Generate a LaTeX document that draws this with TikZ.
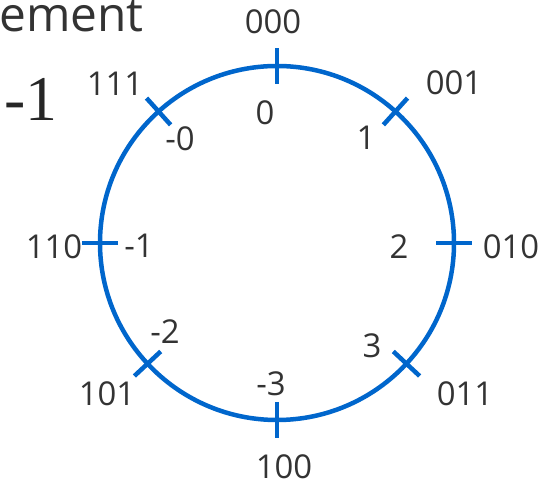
\documentclass[tikz,border=0pt]{standalone}
\usepackage{fontspec}
\setmainfont{Open Sans}
\newfontfamily\serifnum{Liberation Serif}
\usetikzlibrary{calc}
\definecolor{ringblue}{RGB}{0,102,204}
\definecolor{inkgray}{RGB}{51,51,51}

\begin{document}
\begin{tikzpicture}[
  x=1bp, y=1bp,
  ring/.style={draw=ringblue, line width=4.5bp},
  tick/.style={draw=ringblue, line width=4.5bp},
  code/.style={text=inkgray, font=\fontsize{33}{38}\selectfont, inner sep=0pt},
  val/.style={code},
  title/.style={text=inkgray, inner sep=0pt, anchor=base west}
]
  \useasboundingbox (0,0) rectangle (552,484);

  % cut-off heading at top left
  \node[title, font=\fontsize{48}{56}\selectfont] (head) at (-1,452) {ement};
  \node[title, font=\serifnum\fontsize{64}{72}\selectfont, text=black!85] (range) at (4,363) {-1};

  % the ring
  \coordinate (c) at (277,241);
  \draw[ring] (c) circle[radius=177bp];

  % ticks across the ring
  \foreach \a in {90,48,0,-43,-90,223,180,132}
    \draw[tick] ($(c)+(\a:159)$) -- ($(c)+(\a:195)$);

  % bit patterns, outside
  \node[code] (b000) at (273,462) {000};
  \node[code] (b001) at (454,401) {001};
  \node[code] (b010) at (511,237) {010};
  \node[code] (b011) at (465,90) {011};
  \node[code] (b100) at (284,17) {100};
  \node[code] (b101) at (107,90) {101};
  \node[code] (b110) at (54,237) {110};
  \node[code] (b111) at (115,400) {111};

  % values, inside
  \node[val] (v0) at (265,371) {0};
  \node[val] (v1) at (366,346) {1};
  \node[val] (v2) at (399,237) {2};
  \node[val] (v3) at (372,138) {3};
  \node[val] (vm3) at (271,100) {-3};
  \node[val] (vm2) at (165,152) {-2};
  \node[val] (vm1) at (139,238) {-1};
  \node[val] (vm0) at (180,345) {-0};
\end{tikzpicture}
\end{document}
